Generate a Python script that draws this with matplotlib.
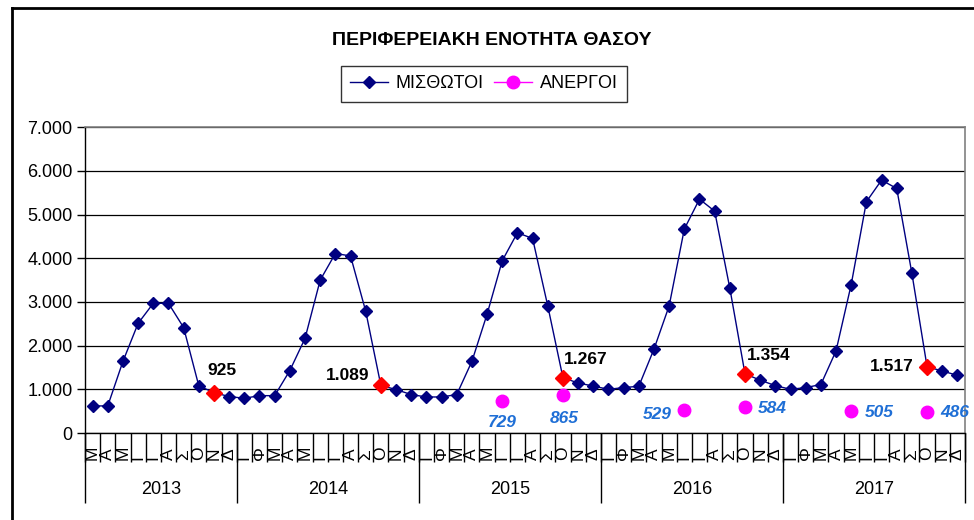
import matplotlib
matplotlib.use("Agg")
import matplotlib.pyplot as plt
from matplotlib.lines import Line2D
from matplotlib.ticker import FuncFormatter
import numpy as np

plt.rcParams["font.family"] = ["Liberation Sans", "DejaVu Sans"]

title = "ΠΕΡΙΦΕΡΕΙΑΚΗ ΕΝΟΤΗΤΑ ΘΑΣΟΥ"

years = ["2013", "2014", "2015", "2016", "2017"]
months_2013 = ["Μ", "Α", "Μ", "Ι", "Ι", "Α", "Σ", "Ο", "Ν", "Δ"]
months_full = ["Ι", "Φ", "Μ", "Α", "Μ", "Ι", "Ι", "Α", "Σ", "Ο", "Ν", "Δ"]
month_labels = [months_2013] + [months_full] * 4

# ΜΙΣΘΩΤΟΙ (employees), monthly
employed = [
    620, 620, 1640, 2510, 2970, 2970, 2415, 1080, 925, 835,
    795, 855, 855, 1430, 2165, 3500, 4110, 4055, 2790, 1089, 995, 880,
    825, 825, 880, 1640, 2720, 3945, 4585, 4455, 2910, 1267, 1145, 1075,
    1000, 1040, 1070, 1920, 2910, 4670, 5355, 5080, 3315, 1354, 1210, 1085,
    1000, 1040, 1110, 1880, 3400, 5295, 5790, 5600, 3655, 1517, 1420, 1320,
]

# highlighted (red) points with bold labels
highlight_idx = [8, 19, 31, 43, 55]
highlight_text = ["925", "1.089", "1.267", "1.354", "1.517"]
highlight_offset = [(8, 22), (-33, 10), (23, 18), (24, 18), (-35, 0)]

# ΑΝΕΡΓΟΙ (unemployed), only a few months
unemployed_idx = [27, 31, 39, 43, 50, 55]
unemployed_val = [729, 865, 529, 584, 505, 486]
unemployed_offset = [(0, -21), (1, -23), (-27, -5), (27, -1), (28, -2), (28, -1)]

navy = "#000080"
magenta = "#ff00ff"
label_blue = "#1f6fd6"

n = len(employed)
x = np.arange(n)
unemployed = np.full(n, np.nan)
unemployed[unemployed_idx] = unemployed_val

fig = plt.figure(figsize=(9.74, 5.2), dpi=100)
ax = fig.add_axes([85 / 974, 1 - 433 / 520, 880 / 974, (433 - 127.3) / 520])

ax.set_ylim(0, 7000)
ax.set_xlim(-0.5, n - 0.5)
ax.set_yticks(np.arange(0, 7001, 1000))
ax.yaxis.set_major_formatter(FuncFormatter(lambda v, p: f"{int(v):,}".replace(",", ".")))
ax.tick_params(axis="y", labelsize=13, length=6, width=1, direction="out", pad=3)
ax.grid(axis="y", color="black", linewidth=0.9)
ax.set_axisbelow(True)

for side in ["top", "right"]:
    ax.spines[side].set_color("#808080")
    ax.spines[side].set_linewidth(1.2)
ax.spines["left"].set_linewidth(1)
ax.spines["bottom"].set_linewidth(1)

# main series
ax.plot(x, employed, color=navy, linewidth=1, marker="D", markersize=6.5,
        markerfacecolor=navy, markeredgecolor=navy, zorder=3)
hx = np.array(highlight_idx)
hy = np.array(employed)[hx]
ax.plot(hx, hy, linestyle="none", marker="D", markersize=8,
        color="#ff0000", zorder=4)
for i, t, off in zip(highlight_idx, highlight_text, highlight_offset):
    ax.annotate(t, (i, employed[i]), xytext=off, textcoords="offset pixels",
                ha="center", va="center", fontsize=12.5, fontweight="bold")

ax.plot(x, unemployed, color=magenta, linewidth=1, marker="o", markersize=9,
        linestyle="none", zorder=3)
for i, v, off in zip(unemployed_idx, unemployed_val, unemployed_offset):
    ax.annotate(str(v), (i, v), xytext=off, textcoords="offset pixels",
                ha="center", va="center", fontsize=12.5, fontweight="bold",
                fontstyle="italic", color=label_blue)

# two-level category axis
ax.set_xticks([])
trans = ax.get_xaxis_transform()
month_depth = -(462 - 433) / 305.7
year_depth = -(503 - 433) / 305.7
ax.vlines(np.arange(n + 1) - 0.5, month_depth, 0, transform=trans,
          color="black", linewidth=1, clip_on=False)
start = 0
year_edges = [0]
for yr, ml in zip(years, month_labels):
    for k, m in enumerate(ml):
        ax.text(start + k, month_depth + 0.005, m, transform=trans, rotation=90,
                ha="center", va="bottom", fontsize=12.5)
    ax.text(start + (len(ml) - 1) / 2, -(490 - 433) / 305.7, yr, transform=trans,
            ha="center", va="center", fontsize=13)
    start += len(ml)
    year_edges.append(start)
ax.vlines(np.array(year_edges) - 0.5, year_depth, 0, transform=trans,
          color="black", linewidth=1, clip_on=False)

fig.text(0.505, 1 - 41 / 520, title, ha="center", va="center",
         fontsize=14, fontweight="bold")

handles = [
    Line2D([], [], color=navy, linewidth=1, marker="D", markersize=6.5),
    Line2D([], [], color=magenta, linewidth=1, marker="o", markersize=9),
]
leg = fig.legend(handles, ["ΜΙΣΘΩΤΟΙ", "ΑΝΕΡΓΟΙ"], loc="center",
                 bbox_to_anchor=(484 / 974, 1 - 84 / 520), ncol=2, fontsize=13,
                 frameon=True, fancybox=False, edgecolor="black",
                 handlelength=2.1, handletextpad=0.4, columnspacing=0.6,
                 borderpad=0.5, borderaxespad=0)
leg.get_frame().set_linewidth(1)

# outer chart border (left and top visible)
fig.add_artist(Line2D([12 / 974, 12 / 974], [0, 1 - 8 / 520],
                      transform=fig.transFigure, color="black", linewidth=2))
fig.add_artist(Line2D([12 / 974, 1], [1 - 8 / 520, 1 - 8 / 520],
                      transform=fig.transFigure, color="black", linewidth=2))

fig.savefig("out.png", dpi=100)
